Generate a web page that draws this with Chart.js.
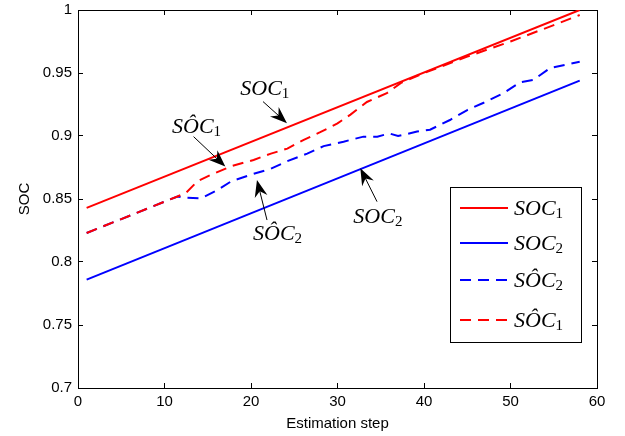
<!DOCTYPE html>
<html>
<head>
<meta charset="utf-8">
<script src="https://cdn.jsdelivr.net/npm/chart.js@4.4.1/dist/chart.umd.min.js"></script>
<style>
html, body { margin: 0; padding: 0; background: #fff; }
#wrap { width: 625px; height: 436px; }
</style>
</head>
<body>
<div id="wrap"><canvas id="socChart"></canvas></div>
<script>
// datos
const soc1X = [1, 58];
const soc1Y = [0.843, 1.0];
const soc2X = [1, 58];
const soc2Y = [0.786, 0.944];
const est1X = [1, 11.5, 12.5, 13.8, 15.3, 17.7, 20.3, 22.3, 24.2, 26.1, 28, 30, 31.5, 33.4, 35.7, 37.3, 40, 45, 50, 55, 58];
const est1Y = [0.823, 0.852, 0.855, 0.864, 0.869, 0.876, 0.881, 0.886, 0.890, 0.897, 0.903, 0.910, 0.917, 0.927, 0.934, 0.942, 0.950, 0.963, 0.975, 0.988, 0.996];
const est2X = [1, 11.5, 12.5, 14.2, 16.1, 17.7, 20.3, 22.3, 24.2, 26.5, 28.4, 30.7, 33, 34.6, 36, 37, 39.2, 40.7, 43, 45, 46.9, 49.2, 51.1, 52.6, 54.6, 58];
const est2Y = [0.823, 0.852, 0.851, 0.8505, 0.857, 0.864, 0.870, 0.874, 0.880, 0.886, 0.892, 0.8955, 0.8995, 0.8995, 0.902, 0.900, 0.9035, 0.905, 0.9127, 0.9206, 0.9264, 0.934, 0.9426, 0.9444, 0.954, 0.959];

// etiquetas con flecha: texto (x,y base) y flecha (cola -> punta), en unidades del grafico
const labelNames = ['SOC', 'SOC', 'SÔC', 'SÔC'];
const labelSubs = ['1', '2', '2', '1'];
const labelX = [18.76, 31.83, 20.23, 10.87];
const labelY = [0.9323, 0.8309, 0.8174, 0.9025];
const arrowFromX = [21.39, 34.57, 21.85, 13.36];
const arrowFromY = [0.9273, 0.8479, 0.8333, 0.8995];
const arrowToX = [24.16, 32.64, 20.69, 17.03];
const arrowToY = [0.9102, 0.8744, 0.8651, 0.8757];

const legendMain = ['SÔC', 'SÔC', 'SOC', 'SOC'];
const legendSub = ['1', '2', '2', '1'];

const toPoints = (xs, ys) => xs.map((x, i) => ({ x: x, y: ys[i] }));

function drawMath(ctx, x, y, main, sub) {
    ctx.fillStyle = '#000';
    ctx.textAlign = 'left';
    ctx.textBaseline = 'alphabetic';
    ctx.font = 'italic 22px "Liberation Serif"';
    ctx.fillText(main, x, y);
    const w = ctx.measureText(main).width;
    ctx.font = '15px "Liberation Serif"';
    ctx.fillText(sub, x + w, y + 3);
}

function drawArrow(ctx, x1, y1, x2, y2) {
    const ang = Math.atan2(y2 - y1, x2 - x1);
    const dx = Math.cos(ang), dy = Math.sin(ang);
    const L = 17, W = 6.5;
    ctx.strokeStyle = '#000';
    ctx.lineWidth = 1;
    ctx.beginPath();
    ctx.moveTo(x1, y1);
    ctx.lineTo(x2 - dx * L * 0.6, y2 - dy * L * 0.6);
    ctx.stroke();
    ctx.fillStyle = '#000';
    ctx.beginPath();
    ctx.moveTo(x2, y2);
    ctx.lineTo(x2 - dx * L - dy * W, y2 - dy * L + dx * W);
    ctx.lineTo(x2 - dx * L * 0.68, y2 - dy * L * 0.68);
    ctx.lineTo(x2 - dx * L + dy * W, y2 - dy * L - dx * W);
    ctx.closePath();
    ctx.fill();
}

const notesPlugin = {
    id: 'notesPlugin',
    afterDraw(chart) {
        const c = chart.ctx;
        const a = chart.chartArea;
        const xs = chart.scales.x, ys = chart.scales.y;
        c.save();
        labelNames.forEach((name, i) => {
            drawMath(c, xs.getPixelForValue(labelX[i]), ys.getPixelForValue(labelY[i]), name, labelSubs[i]);
            drawArrow(c,
                xs.getPixelForValue(arrowFromX[i]), ys.getPixelForValue(arrowFromY[i]),
                xs.getPixelForValue(arrowToX[i]), ys.getPixelForValue(arrowToY[i]));
        });

        // leyenda
        const bx = Math.round(a.right) - 147, by = Math.round(a.top) + 177;
        const bw = 131, bh = 155;
        c.fillStyle = '#fff';
        c.fillRect(bx, by, bw, bh);
        c.fillStyle = '#000';
        c.fillRect(bx, by, bw + 1, 1);
        c.fillRect(bx, by + bh, bw + 1, 1);
        c.fillRect(bx, by, 1, bh + 1);
        c.fillRect(bx + bw, by, 1, bh + 1);
        const rowOffsets = [21, 56, 93, 133];
        const legendOrder = [3, 2, 1, 0];
        legendOrder.forEach((di, r) => {
            const ds = chart.data.datasets[di];
            const ly = by + rowOffsets[r];
            c.strokeStyle = ds.borderColor;
            c.lineWidth = 2;
            c.setLineDash(ds.borderDash || []);
            c.beginPath();
            c.moveTo(bx + 10, ly);
            c.lineTo(bx + 58, ly);
            c.stroke();
            c.setLineDash([]);
            drawMath(c, bx + 64, ly + 7, legendMain[di], legendSub[di]);
        });
        c.restore();
    }
};

const font15 = { family: '"Liberation Sans", Arial, sans-serif', size: 15 };
// marcas hacia dentro: tickLength negativo, sin rejilla
const inGrid = { display: true, drawOnChartArea: false, drawTicks: true, tickLength: -5, color: '#000', tickColor: '#000', tickWidth: 1 };
const blackBorder = { display: true, color: '#000', width: 1 };

const chartCtx = document.getElementById('socChart').getContext('2d');
const myChart = new Chart(chartCtx, {
    type: 'line',
    data: {
        datasets: [
            { label: 'SOC1 est', data: toPoints(est1X, est1Y), borderColor: '#ff0000', borderWidth: 2, borderDash: [11, 7], order: 0 },
            { label: 'SOC2 est', data: toPoints(est2X, est2Y), borderColor: '#0000ff', borderWidth: 2, borderDash: [11, 7], order: 1 },
            { label: 'SOC2', data: toPoints(soc2X, soc2Y), borderColor: '#0000ff', borderWidth: 2, order: 2 },
            { label: 'SOC1', data: toPoints(soc1X, soc1Y), borderColor: '#ff0000', borderWidth: 2, order: 3 }
        ]
    },
    options: {
        responsive: true,
        maintainAspectRatio: false,
        animation: false,
        devicePixelRatio: 1,
        elements: {
            point: { radius: 0, hoverRadius: 0 },
            line: { tension: 0, fill: false }
        },
        layout: { padding: { top: 10, right: 28, left: 0, bottom: 0 } },
        plugins: {
            legend: { display: false },
            tooltip: { enabled: false }
        },
        scales: {
            x: {
                type: 'linear',
                position: 'bottom',
                min: 0,
                max: 60,
                grid: inGrid,
                border: blackBorder,
                afterFit: s => { s.height = 48; s.paddingLeft = 0; s.paddingRight = 0; },
                ticks: { color: '#000', stepSize: 10, padding: 10, maxRotation: 0, font: font15 },
                title: {
                    display: true,
                    text: 'Estimation step',
                    color: '#000',
                    padding: { top: 0, bottom: 3 },
                    font: font15
                }
            },
            xTop: {
                type: 'linear',
                position: 'top',
                min: 0,
                max: 60,
                grid: inGrid,
                border: blackBorder,
                afterFit: s => { s.height = 0; s.paddingLeft = 0; s.paddingRight = 0; },
                ticks: { display: false, stepSize: 10 }
            },
            y: {
                type: 'linear',
                position: 'left',
                min: 0.7,
                max: 1,
                grid: inGrid,
                border: blackBorder,
                afterFit: s => { s.width = 78; s.paddingTop = 0; s.paddingBottom = 0; },
                ticks: {
                    color: '#000',
                    stepSize: 0.05,
                    padding: 11,
                    font: font15,
                    callback: v => String(parseFloat(Number(v).toFixed(2)))
                },
                title: {
                    display: true,
                    text: 'SOC',
                    color: '#000',
                    padding: { top: 16, bottom: 0 },
                    font: font15
                }
            },
            yRight: {
                type: 'linear',
                position: 'right',
                min: 0.7,
                max: 1,
                grid: inGrid,
                border: blackBorder,
                afterFit: s => { s.width = 0; s.paddingTop = 0; s.paddingBottom = 0; },
                ticks: { display: false, stepSize: 0.05 }
            }
        }
    },
    plugins: [notesPlugin]
});
</script>
</body>
</html>
